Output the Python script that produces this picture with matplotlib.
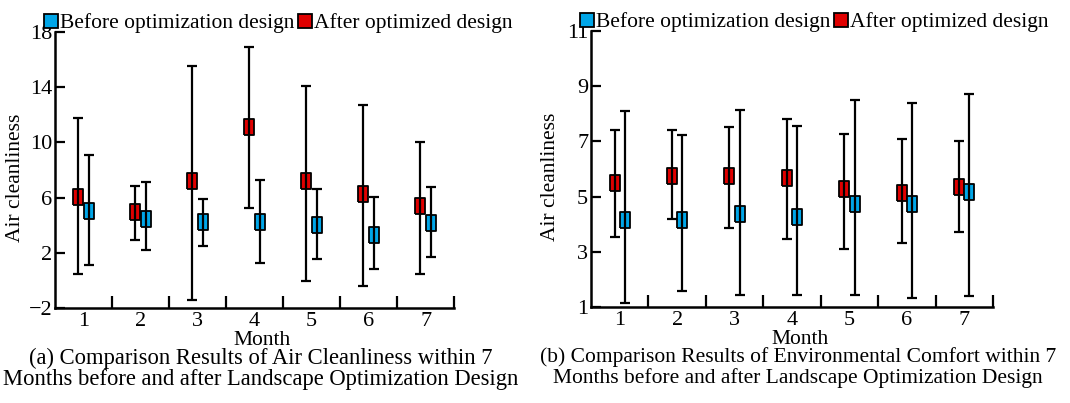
import matplotlib.pyplot as plt
import numpy as np
from matplotlib.lines import Line2D

plt.rcParams['font.family'] = ['Liberation Serif', 'DejaVu Serif']

months = [1, 2, 3, 4, 5, 6, 7]

# (a) air cleanliness
air_before = [5.05, 4.47, 4.23, 4.23, 4.04, 3.31, 4.16]
air_before_hi = [9.06, 7.11, 5.92, 7.25, 6.65, 6.02, 6.77]
air_before_lo = [1.09, 2.23, 2.47, 1.26, 1.55, 0.83, 1.67]
air_after = [6.05, 4.96, 7.18, 11.12, 7.18, 6.26, 5.37]
air_after_hi = [11.8, 6.86, 15.5, 16.9, 14.1, 12.7, 10.05]
air_after_lo = [0.46, 2.9, -1.4, 5.25, -0.07, -0.43, 0.46]

# (b) environmental comfort
env_before = [4.16, 4.16, 4.38, 4.26, 4.73, 4.73, 5.16]
env_before_hi = [8.1, 7.23, 8.15, 7.55, 8.5, 8.4, 8.72]
env_before_lo = [1.14, 1.59, 1.42, 1.42, 1.42, 1.33, 1.39]
env_after = [5.51, 5.75, 5.75, 5.69, 5.28, 5.13, 5.34]
env_after_hi = [7.4, 7.4, 7.52, 7.8, 7.28, 7.08, 7.0]
env_after_lo = [3.53, 4.2, 3.86, 3.46, 3.1, 3.32, 3.7]

blue = '#00A6E8'
red = '#E00000'
rect = [(-3.2, -5), (3.2, -5), (3.2, 5), (-3.2, 5), (-3.2, -5)]


def panel(ax, before, bhi, blo, after, ahi, alo, ylim, yticks, cap1, cap2,
          capsize):
    x = np.array(months)
    for v, hi, lo, col, off in [(after, ahi, alo, red, -0.09),
                                (before, bhi, blo, blue, 0.09)]:
        v = np.array(v)
        err = [v - np.array(lo), np.array(hi) - v]
        ax.plot(x + off, v, linestyle='none', marker=rect, markersize=11.5,
                markerfacecolor=col, markeredgecolor='black',
                markeredgewidth=1.3, zorder=2)
        ax.errorbar(x + off, v, yerr=err, fmt='none', ecolor='black',
                    elinewidth=1.6, capsize=3.5, capthick=1.6, zorder=3)
    ax.set_xlim(0.5, 7.5)
    ax.set_ylim(*ylim)
    ax.set_yticks(yticks)
    ax.set_yticklabels([str(t).replace('-', '\u2212') for t in yticks])
    ax.set_xticks(np.arange(1.5, 7.6, 1))
    ax.set_xticklabels([])
    ax.set_xticks(months, minor=True)
    ax.set_xticklabels([str(m) for m in months], minor=True)
    ax.tick_params(axis='x', which='major', direction='in', length=9, width=1.6)
    ax.tick_params(axis='x', which='minor', length=0, labelsize=16, pad=3)
    ax.tick_params(axis='y', direction='in', length=7, width=1.6,
                   labelsize=16, pad=2)
    for s in ['top', 'right']:
        ax.spines[s].set_visible(False)
    for s in ['left', 'bottom']:
        ax.spines[s].set_linewidth(1.8)
    ax.set_ylabel('Air cleanliness', fontsize=15.5)
    ax.yaxis.set_label_coords(-0.076, 0.47)
    ax.set_xlabel('Month', fontsize=15.5, va='center')
    ax.xaxis.set_label_coords(0.52, -0.117)
    ax.text(0.515, -0.182, cap1, transform=ax.transAxes, ha='center',
            va='center', fontsize=capsize)
    ax.text(0.515, -0.258, cap2, transform=ax.transAxes, ha='center',
            va='center', fontsize=capsize)
    handles = [Line2D([], [], linestyle='none', marker='s', markersize=10,
                      markerfacecolor=blue, markeredgecolor='black',
                      markeredgewidth=1.3),
               Line2D([], [], linestyle='none', marker='s', markersize=10,
                      markerfacecolor=red, markeredgecolor='black',
                      markeredgewidth=1.3)]
    ax.legend(handles, ['Before optimization design', 'After optimized design'],
              ncol=2, loc='lower left', bbox_to_anchor=(-0.025, 0.995),
              frameon=False, fontsize=15.5, handlelength=0.6,
              handletextpad=0.1, columnspacing=0.2, borderpad=0,
              borderaxespad=0)


fig = plt.figure(figsize=(10.7, 4.03), dpi=100)
ax1 = fig.add_axes([0.0514, 0.2357, 0.373, 0.685])
ax2 = fig.add_axes([0.5523, 0.2382, 0.3757, 0.685])

panel(ax1, air_before, air_before_hi, air_before_lo, air_after, air_after_hi,
      air_after_lo, (-2, 18), [-2, 2, 6, 10, 14, 18],
      '(a) Comparison Results of Air Cleanliness within 7',
      'Months before and after Landscape Optimization Design', 16.3)
panel(ax2, env_before, env_before_hi, env_before_lo, env_after, env_after_hi,
      env_after_lo, (1, 11), [1, 3, 5, 7, 9, 11],
      '(b) Comparison Results of Environmental Comfort within 7',
      'Months before and after Landscape Optimization Design', 15.5)

fig.savefig('out.png', dpi=100)
